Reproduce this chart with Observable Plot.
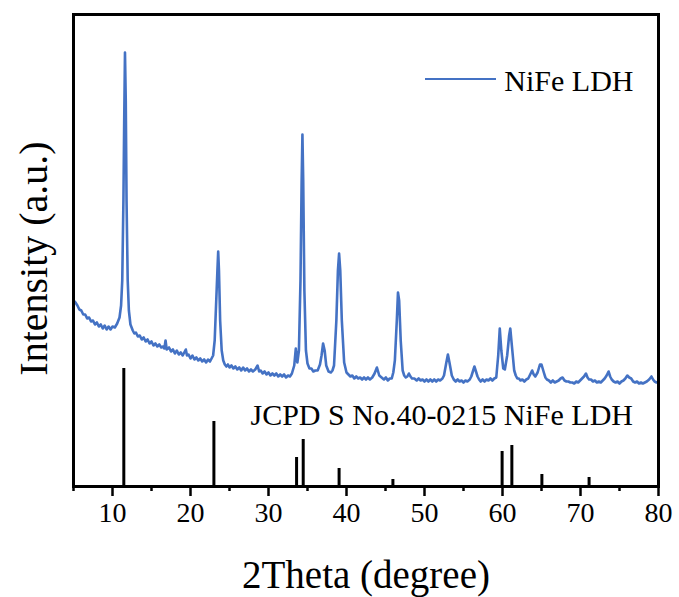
<!DOCTYPE html>
<html>
<head>
<meta charset="utf-8">
<script src="https://cdn.jsdelivr.net/npm/d3@7"></script>
<script src="https://cdn.jsdelivr.net/npm/@observablehq/plot@0.6"></script>
<style>
  html, body { margin: 0; padding: 0; background: #fff; }
  #chart { width: 679px; height: 597px; }
  #chart svg, #chart svg text { font-family: 'Liberation Serif', 'Times New Roman', serif !important; }
</style>
</head>
<body>
<div id="chart"></div>
<script>
// Measured XRD pattern: [2θ (degree), intensity (a.u.)]
const pattern = [
[5.0,186],[5.25,184],[5.5,181],[5.75,177],[6.0,176],[6.25,172],[6.5,172],[6.75,168],[7.0,169],[7.25,165],
[7.5,166],[7.75,162],[8.0,164],[8.25,160],[8.5,162],[8.75,158],[9.0,161],[9.25,157],[9.5,160],[9.75,157],
[10.0,160],[10.3,159],[10.6,163],[10.9,169],[11.1,181],[11.25,206],[11.4,286],[11.5,366],[11.6,434],[11.7,386],
[11.8,286],[11.95,206],[12.1,176],[12.3,162],[12.6,156],[12.8,153],[13.0,154],[13.25,150],[13.5,151],[13.75,147],
[14.0,149],[14.25,145],[14.5,147],[14.75,143],[15.0,145],[15.25,141],[15.5,143],[15.75,140],[16.0,142],[16.25,139],
[16.5,140],[16.65,138],[16.8,146],[16.95,137],[17.25,139],[17.5,135],[17.75,137],[18.0,133],[18.25,136],[18.5,132],
[18.75,134],[19.0,131],[19.2,134],[19.4,137],[19.55,131],[19.75,132],[20.0,128],[20.25,131],[20.5,127],[20.75,129],
[21.0,126],[21.25,128],[21.5,125],[21.75,127],[22.0,124],[22.25,127],[22.5,125],[22.7,128],[22.9,131],[23.1,146],
[23.3,186],[23.45,216],[23.55,235],[23.65,216],[23.8,166],[24.0,136],[24.2,126],[24.4,122],[24.6,120],[24.8,122],
[25.0,119],[25.25,121],[25.5,118],[25.75,120],[26.0,117],[26.25,119],[26.5,116],[26.75,119],[27.0,116],[27.25,118],
[27.5,115],[27.75,117],[28.0,115],[28.3,117],[28.6,121],[28.8,115],[29.0,116],[29.25,113],[29.5,115],[29.75,112],
[30.0,114],[30.25,111],[30.5,113],[30.75,111],[31.0,113],[31.25,110],[31.5,112],[31.75,110],[32.0,112],[32.25,109],
[32.5,111],[32.75,110],[33.0,113],[33.3,121],[33.5,138],[33.7,124],[33.9,136],[34.1,206],[34.25,306],[34.35,352],
[34.45,306],[34.6,196],[34.8,136],[35.0,123],[35.25,118],[35.5,118],[35.75,115],[36.0,116],[36.3,116],[36.6,122],
[36.8,131],[37.0,143],[37.2,136],[37.4,121],[37.7,115],[38.0,114],[38.2,116],[38.4,121],[38.7,166],[38.9,216],
[39.05,233],[39.2,216],[39.4,166],[39.7,124],[40.0,114],[40.25,112],[40.5,110],[40.75,111],[41.0,108],[41.25,110],
[41.5,108],[41.75,109],[42.0,107],[42.25,109],[42.5,107],[42.75,109],[43.0,107],[43.3,109],[43.6,113],[43.9,119],
[44.2,111],[44.5,109],[44.8,107],[45.05,109],[45.3,106],[45.55,108],[45.8,108],[46.0,114],[46.2,126],[46.45,166],
[46.6,194],[46.75,186],[46.95,146],[47.2,116],[47.4,111],[47.6,109],[47.8,110],[48.0,113],[48.2,110],[48.4,108],
[48.7,108],[49.0,106],[49.25,108],[49.5,106],[49.75,107],[50.0,105],[50.25,107],[50.5,105],[50.75,107],[51.0,105],
[51.25,107],[51.5,105],[51.75,107],[52.0,106],[52.3,108],[52.5,111],[52.8,124],[53.0,132],[53.2,124],[53.5,111],
[53.75,107],[54.0,105],[54.25,107],[54.5,105],[54.75,106],[55.0,104],[55.25,106],[55.5,105],[55.8,107],[56.0,110],
[56.4,120],[56.8,110],[57.0,107],[57.2,105],[57.45,107],[57.7,105],[57.95,107],[58.2,106],[58.45,108],[58.7,106],
[58.95,108],[59.2,109],[59.45,131],[59.65,158],[59.85,136],[60.1,118],[60.3,117],[60.6,131],[60.85,151],[61.0,158],
[61.2,141],[61.5,116],[61.7,111],[61.9,108],[62.1,108],[62.3,106],[62.55,107],[62.8,105],[63.05,107],[63.3,108],
[63.55,112],[63.8,116],[64.0,112],[64.2,110],[64.5,114],[64.8,122],[65.0,122],[65.3,114],[65.5,109],[65.7,107],
[65.95,106],[66.2,104],[66.45,106],[66.7,104],[66.95,105],[67.2,106],[67.45,108],[67.7,109],[67.95,106],[68.2,105],
[68.45,105],[68.7,104],[68.95,104],[69.2,103],[69.45,105],[69.7,104],[69.95,106],[70.2,108],[70.45,110],[70.7,113],
[70.9,109],[71.1,107],[71.35,107],[71.6,105],[71.85,106],[72.1,104],[72.35,105],[72.6,104],[72.85,106],[73.1,108],
[73.35,111],[73.6,115],[73.8,110],[74.0,107],[74.25,105],[74.5,104],[74.75,105],[75.0,103],[75.25,105],[75.5,106],
[75.75,108],[76.0,111],[76.25,109],[76.5,108],[76.75,105],[77.0,104],[77.25,105],[77.5,103],[77.75,104],[78.0,103],
[78.25,104],[78.5,105],[78.8,107],[79.1,110],[79.3,107],[79.5,105],[79.75,104],[80.0,104]
];

// JCPDS No.40-0215 reference lines
const refTheta = [11.45, 23.0, 33.6, 34.45, 39.05, 45.95, 59.95, 61.2, 65.05, 71.1];
const refIntensity = [118, 65, 29, 47, 18, 7, 35, 41, 12, 9];

const xTicks = [10, 20, 30, 40, 50, 60, 70, 80];
const xMinorTicks = [5, 15, 25, 35, 45, 55, 65, 75];

const seriesName = "NiFe LDH";
const refName = "JCPD S No.40-0215 NiFe LDH";
const xLabel = "2Theta (degree)";
const yLabel = "Intensity (a.u.)";
const blue = "#4472c4";
const serif = "'Liberation Serif', 'Times New Roman', serif";

const data = pattern.map(([t, v]) => ({t, v}));
const refs = refTheta.map((t, i) => ({t, v: refIntensity[i]}));

// Legend swatch drawn relative to the frame
function legendSwatch(index, scales, values, dims) {
  const g = d3.create("svg:g");
  const xr = dims.width - dims.marginRight - 25 - 130 - 7;
  g.append("line")
    .attr("x1", xr - 71).attr("x2", xr)
    .attr("y1", dims.marginTop + 65).attr("y2", dims.marginTop + 65)
    .attr("stroke", blue).attr("stroke-width", 2);
  return g.node();
}

const chart = Plot.plot({
  width: 679,
  height: 597,
  marginLeft: 73,
  marginRight: 21,
  marginTop: 14,
  marginBottom: 111,
  style: {fontFamily: serif, color: "#000", background: "#fff"},
  x: {domain: [5, 80]},
  y: {domain: [0, 472], axis: null},
  marks: [
    Plot.ruleX(refs, {x: "t", y1: 0, y2: "v", stroke: "#000", strokeWidth: 3}),
    Plot.line(data, {x: "t", y: "v", stroke: blue, strokeWidth: 2.6, strokeLinejoin: "round"}),
    Plot.axisX({ticks: xMinorTicks, tickSize: 5, text: null, strokeWidth: 2.5, label: null}),
    Plot.axisX({ticks: xTicks, tickSize: 10, tickPadding: 6, strokeWidth: 2.5, fontSize: 28, fontFamily: serif, label: null, tickFormat: d => String(d)}),
    Plot.frame({stroke: "#000", strokeWidth: 3}),
    Plot.text([xLabel], {frameAnchor: "bottom", dy: 89, lineAnchor: "middle", fontSize: 39, fontFamily: serif, fill: "#000"}),
    Plot.text([yLabel], {frameAnchor: "left", dx: -39, dy: 8, rotate: -90, textAnchor: "middle", lineAnchor: "middle", fontSize: 40, fontFamily: serif, fill: "#000"}),
    Plot.text([refName], {frameAnchor: "top-left", dx: 177, dy: 401, textAnchor: "start", lineAnchor: "middle", fontSize: 30, fontFamily: serif, fill: "#000"}),
    Plot.text([seriesName], {frameAnchor: "top-right", dx: -25, dy: 67, textAnchor: "end", lineAnchor: "middle", fontSize: 30, fontFamily: serif, fill: "#000"}),
    legendSwatch
  ]
});
document.getElementById("chart").appendChild(chart);
</script>
</body>
</html>
